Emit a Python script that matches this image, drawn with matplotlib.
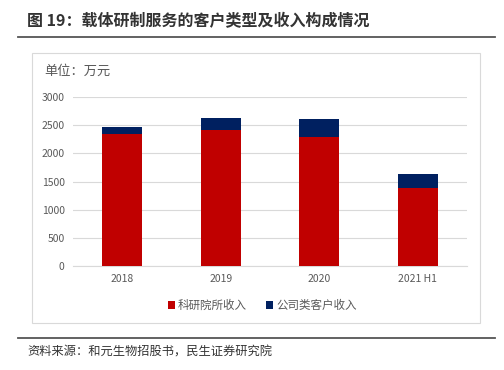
import matplotlib.pyplot as plt
from matplotlib.patches import Rectangle
from matplotlib.lines import Line2D

plt.rcParams['font.family'] = ['Noto Sans CJK SC', 'DejaVu Sans']

# data (万元)
years = ['2018', '2019', '2020', '2021 H1']
research_inst = [2335, 2415, 2295, 1385]
company_clients = [130, 220, 315, 250]

fig = plt.figure(figsize=(5.04, 3.70), dpi=100)

# title and frame lines
fig.text(27 / 504, 1 - 21 / 370, '图 19：载体研制服务的客户类型及收入构成情况',
         fontsize=11.5, fontweight='bold', color='#333333', va='center')
fig.add_artist(Line2D([18 / 504, 495 / 504], [1 - 37 / 370] * 2, color='#555555', lw=1.3))
fig.add_artist(Line2D([18 / 504, 495 / 504], [1 - 338 / 370] * 2, color='#555555', lw=1.3))
fig.add_artist(Rectangle((32 / 504, 1 - 323 / 370), 448 / 504, 270 / 370,
                         fill=False, edgecolor='#D9D9D9', lw=0.8))
fig.text(27 / 504, 1 - 352 / 370, '资料来源：和元生物招股书，民生证券研究院',
         fontsize=8.8, color='#333333', va='center')

ax = fig.add_axes([73 / 504, 1 - 266 / 370, 394 / 504, 169 / 370])
x = range(len(years))
ax.bar(x, research_inst, width=0.41, color='#C00000', label='科研院所收入', zorder=3)
ax.bar(x, company_clients, width=0.41, bottom=research_inst, color='#002060',
       label='公司类客户收入', zorder=3)

ax.set_xlim(-0.5, 3.5)
ax.set_ylim(0, 3000)
ax.set_yticks(range(0, 3001, 500))
ax.set_xticks(list(x))
ax.set_xticklabels(years)
ax.tick_params(length=0, labelsize=7.5, colors='#595959', pad=6)
ax.grid(axis='y', color='#D9D9D9', lw=0.8, zorder=0)
for s in ['top', 'right', 'left']:
    ax.spines[s].set_visible(False)
ax.spines['bottom'].set_color('#D9D9D9')

fig.text(44 / 504, 1 - 71 / 370, '单位：万元', fontsize=9.5, color='#595959', va='center')

ax.legend(loc='center', bbox_to_anchor=(0.48, -0.235), ncol=2, frameon=False,
          fontsize=8.3, labelcolor='#595959', handlelength=0.6, handleheight=0.6,
          handletextpad=0.3, columnspacing=1.6)

fig.savefig('out.png', dpi=100)
